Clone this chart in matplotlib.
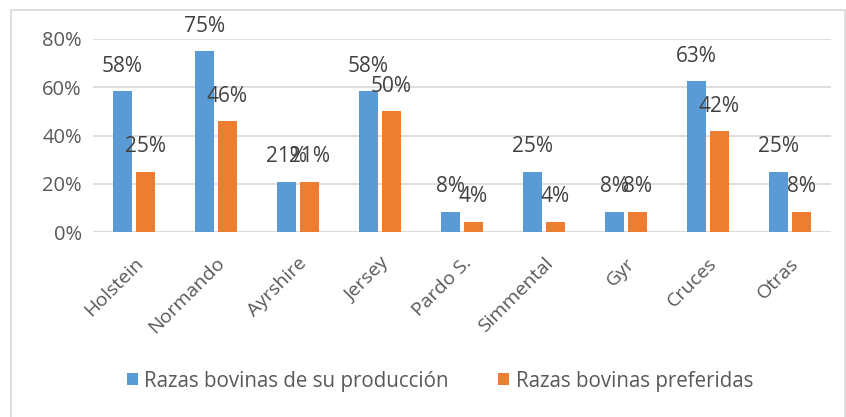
import numpy as np
import matplotlib.pyplot as plt
import matplotlib.transforms as mtransforms
from matplotlib.patches import Rectangle

categories = ['Holstein', 'Normando', 'Ayrshire', 'Jersey', 'Pardo S.',
              'Simmental', 'Gyr', 'Cruces', 'Otras']
produccion = [0.5833, 0.75, 0.2083, 0.5833, 0.0833, 0.25, 0.0833, 0.625, 0.25]
preferidas = [0.25, 0.4583, 0.2083, 0.50, 0.0417, 0.0417, 0.0833, 0.4167, 0.0833]
series_names = ['Razas bovinas de su producción', 'Razas bovinas preferidas']
yticks = [0, 0.2, 0.4, 0.6, 0.8]

plt.rcParams['font.family'] = ['Open Sans', 'DejaVu Sans']

blue = '#5b9bd5'
orange = '#ed7d31'

fig = plt.figure(figsize=(8.46, 4.17), dpi=100)
ax = fig.add_axes([0.110, 0.4436, 0.872, 0.4629])

x = np.arange(len(categories))
w = 0.23
off = 0.14
b1 = ax.bar(x - off, produccion, w, color=blue, label=series_names[0], zorder=3)
b2 = ax.bar(x + off, preferidas, w, color=orange, label=series_names[1], zorder=3)

def pct(v):
    return '{}%'.format(int(v * 100 + 0.5))

# etiquetas de datos, arriba de cada barra
for xs, vals in ((x - off, produccion), (x + off, preferidas)):
    for xi, v in zip(xs, vals):
        ax.annotate(pct(v), (xi, v), xytext=(0, 18), textcoords='offset points',
                    ha='center', va='center', fontsize=15, color='#404040', zorder=4)

ax.set_xlim(-0.5, len(categories) - 0.5)
ax.set_ylim(0, 0.8)
ax.set_yticks(yticks)
ax.set_yticklabels([pct(t) for t in yticks], fontsize=14.5, color='#595959')
ax.set_xticks(x)
ax.set_xticklabels(categories, rotation=45, ha='right', rotation_mode='anchor',
                   fontsize=14, color='#595959')
shift = mtransforms.ScaledTranslation(-0.05, 0, fig.dpi_scale_trans)
for lab in ax.get_xticklabels():
    lab.set_transform(lab.get_transform() + shift)
ax.tick_params(axis='y', length=0, pad=8)
ax.tick_params(axis='x', length=0, pad=16)
ax.yaxis.grid(True, color='#d9d9d9', linewidth=1.2, zorder=0)
for s in ax.spines.values():
    s.set_visible(False)
ax.axhline(0, color='#d9d9d9', linewidth=1.2, zorder=2)

fig.legend(handles=[b1, b2], labels=series_names, loc='center',
           bbox_to_anchor=(0.52, 1 - 381 / 417), ncol=2, frameon=False,
           fontsize=14.8, handlelength=0.55, handleheight=0.55, handletextpad=0.3,
           columnspacing=2.4, labelcolor='#595959')

# borde del grafico
fig.patches.append(Rectangle((11 / 846, -0.01), 1 - 12 / 846, 1 - 10 / 417 + 0.01,
                             transform=fig.transFigure, fill=False,
                             edgecolor='#d9d9d9', linewidth=1.2))

fig.savefig('out.png', dpi=100)
